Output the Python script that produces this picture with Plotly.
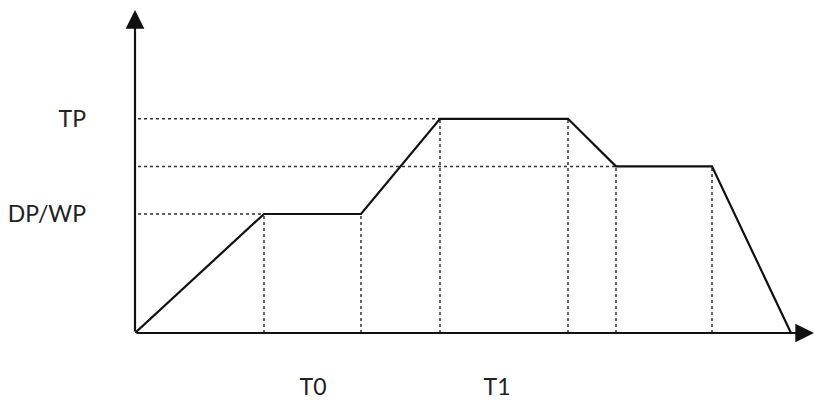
import plotly.graph_objects as go

# Pressure profile (abstract units): time points and pressure levels
t_points = [0, 12.9, 22.6, 30.5, 43.3, 48.1, 57.7, 65.6]
p_points = [0, 1.0, 1.0, 1.8, 1.8, 1.4, 1.4, 0]

# Horizontal guide levels
guide_levels = [1.0, 1.4, 1.8]

# Axis labels
y_tick_vals = [1.0, 1.8]
y_tick_text = ["DP/WP", "TP"]
x_tick_vals = [17.8, 36.2]
x_tick_text = ["T0", "T1"]

X_MAX = 67.9
Y_MAX = 2.714

fig = go.Figure()

dot_style = dict(color="#333333", width=1.5, dash="dot")

# horizontal dotted guides: from y axis to first point reaching the level
for lvl in guide_levels:
    idx = next(i for i, p in enumerate(p_points) if p == lvl)
    fig.add_trace(go.Scatter(x=[0.3, t_points[idx]], y=[lvl, lvl], mode="lines",
                             line=dot_style, hoverinfo="skip", showlegend=False))

# vertical dotted guides at every interior break point
for t, p in zip(t_points[1:-1], p_points[1:-1]):
    fig.add_trace(go.Scatter(x=[t, t], y=[0, p], mode="lines",
                             line=dot_style, hoverinfo="skip", showlegend=False))

# main profile
fig.add_trace(go.Scatter(x=t_points, y=p_points, mode="lines",
                         line=dict(color="#111111", width=2.2),
                         hoverinfo="skip", showlegend=False))

# axes with arrows
arrow_common = dict(text="", showarrow=True, arrowhead=2, arrowsize=1.7,
                    arrowwidth=2.2, arrowcolor="#111111", standoff=0, startstandoff=0,
                    xref="x", yref="y", axref="x", ayref="y")
fig.add_annotation(x=0, y=Y_MAX, ax=0, ay=0, **arrow_common)
fig.add_annotation(x=X_MAX, y=0, ax=0, ay=0, **arrow_common)

fig.update_layout(
    width=814, height=400,
    margin=dict(l=135, r=0, t=10, b=67, pad=0),
    paper_bgcolor="white", plot_bgcolor="white",
    font=dict(family="Lato", size=23, color="#222222"),
    xaxis=dict(range=[0, X_MAX], showgrid=False, zeroline=False, showline=False,
               tickmode="array", tickvals=x_tick_vals, ticktext=x_tick_text,
               ticks="", ticklabelstandoff=38, fixedrange=True),
    yaxis=dict(range=[0, Y_MAX], showgrid=False, zeroline=False, showline=False,
               tickmode="array", tickvals=y_tick_vals, ticktext=y_tick_text,
               ticks="", ticklabelstandoff=48, fixedrange=True),
)

fig.write_html("out.html", config={"displayModeBar": False},
               post_script="document.body.style.margin='0';document.body.style.overflow='hidden';")
